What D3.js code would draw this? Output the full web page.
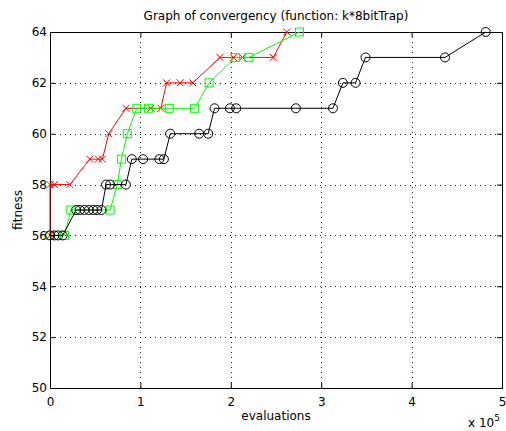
<!DOCTYPE html>
<html>
<head>
<meta charset="utf-8">
<script src="https://cdn.jsdelivr.net/npm/d3@7"></script>
<style>
  body { margin: 0; background: #fff; }
  text { font-family: "DejaVu Sans", "Liberation Sans", Arial, sans-serif; }
</style>
</head>
<body>
<script>
// Data (evaluations in units of 1e5)
const redEvals = [0, 0, 0.05, 0.22, 0.44, 0.535, 0.58, 0.65, 0.84, 1.115, 1.226, 1.29, 1.44, 1.58, 1.88, 2.03, 2.13, 2.47, 2.62]
const redFitness = [56, 58, 58, 58, 59, 59, 59, 60, 61, 61, 61, 62, 62, 62, 63, 63, 63, 63, 64]

const greenEvals = [0, 0.16, 0.23, 0.665, 0.745, 0.79, 0.855, 0.96, 1.09, 1.32, 1.6, 1.76, 2.05, 2.2, 2.76]
const greenFitness = [56, 56, 57, 57, 58, 59, 60, 61, 61, 61, 61, 62, 63, 63, 64]

const blackEvals = [0, 0.05, 0.09, 0.14, 0.29, 0.33, 0.38, 0.43, 0.48, 0.52, 0.57, 0.62, 0.665, 0.84, 0.905, 1.03, 1.21, 1.26, 1.33, 1.65, 1.75, 1.82, 1.99, 2.06, 2.72, 3.13, 3.24, 3.38, 3.49, 4.37, 4.82]
const blackFitness = [56, 56, 56, 56, 57, 57, 57, 57, 57, 57, 57, 58, 58, 58, 59, 59, 59, 59, 60, 60, 60, 61, 61, 61, 61, 61, 62, 62, 63, 63, 64]

const xTicks = [0, 1, 2, 3, 4, 5]
const yTicks = [50, 52, 54, 56, 58, 60, 62, 64]

const w = 506
const h = 431
const padL = 50, padR = 502, padT = 32, padB = 388

const svg = d3.select('body')
  .append('svg')
  .attr('width', w)
  .attr('height', h)

const x = d3.scaleLinear().domain([0, 5]).range([padL, padR])
const y = d3.scaleLinear().domain([50, 64]).range([padB, padT])

// Grid (dotted)
svg.append('g').selectAll('line')
  .data(xTicks.slice(1, -1))
  .enter().append('line')
  .attr('x1', d => Math.round(x(d)) + 0.5).attr('x2', d => Math.round(x(d)) + 0.5)
  .attr('y1', padT).attr('y2', padB)
  .attr('stroke', '#222').attr('stroke-width', 1)
  .attr('stroke-dasharray', '1,4')

svg.append('g').selectAll('line')
  .data(yTicks.slice(1, -1))
  .enter().append('line')
  .attr('x1', padL).attr('x2', padR)
  .attr('y1', d => Math.round(y(d)) + 0.5).attr('y2', d => Math.round(y(d)) + 0.5)
  .attr('stroke', '#222').attr('stroke-width', 1)
  .attr('stroke-dasharray', '1,4')

// Axes
const xAxis = d3.axisBottom(x).tickValues(xTicks).tickSize(-5).tickPadding(9).tickFormat(d3.format('d'))
const yAxis = d3.axisLeft(y).tickValues(yTicks).tickSize(-5).tickPadding(3)
const xTop = d3.axisTop(x).tickValues(xTicks).tickSize(-5).tickFormat('')
const yRight = d3.axisRight(y).tickValues(yTicks).tickSize(-5).tickFormat('')

function styleAxis(g) {
  g.select('.domain').remove()
  g.selectAll('line').attr('stroke', '#000')
  g.selectAll('text').attr('fill', '#000').style('font-size', '12px')
  g.attr('font-family', null)
}

svg.append('g').attr('transform', 'translate(0,' + padB + ')').call(xAxis).call(styleAxis)
svg.append('g').attr('transform', 'translate(' + padL + ',0)').call(yAxis).call(styleAxis)
svg.append('g').attr('transform', 'translate(0,' + padT + ')').call(xTop).call(styleAxis)
svg.append('g').attr('transform', 'translate(' + padR + ',0)').call(yRight).call(styleAxis)

svg.append('rect')
  .attr('x', padL + 0.5).attr('y', padT + 0.5)
  .attr('width', padR - padL).attr('height', padB - padT)
  .attr('fill', 'none').attr('stroke', '#000').attr('stroke-width', 1)

// Series
const line = d3.line().x(d => x(d[0])).y(d => y(d[1]))

function series(evals, fit) { return evals.map((e, i) => [e, fit[i]]) }

const red = series(redEvals, redFitness)
const green = series(greenEvals, greenFitness)
const black = series(blackEvals, blackFitness)

// red
svg.append('path').datum(red).attr('d', line)
  .attr('fill', 'none').attr('stroke', '#ff0000').attr('stroke-width', 1)
svg.append('g').selectAll('path')
  .data(red).enter().append('path')
  .attr('transform', d => 'translate(' + x(d[0]) + ',' + y(d[1]) + ')')
  .attr('d', 'M-3.5,-3.5L3.5,3.5M-3.5,3.5L3.5,-3.5')
  .attr('stroke', '#ff0000').attr('stroke-width', 1)

// green
svg.append('path').datum(green).attr('d', line)
  .attr('fill', 'none').attr('stroke', '#00ff00').attr('stroke-width', 1)
svg.append('g').selectAll('rect')
  .data(green).enter().append('rect')
  .attr('x', d => x(d[0]) - 4).attr('y', d => y(d[1]) - 4)
  .attr('width', 8).attr('height', 8)
  .attr('fill', 'none').attr('stroke', '#00ff00').attr('stroke-width', 1)

// black
svg.append('path').datum(black).attr('d', line)
  .attr('fill', 'none').attr('stroke', '#000').attr('stroke-width', 1)
svg.append('g').selectAll('circle')
  .data(black).enter().append('circle')
  .attr('cx', d => x(d[0])).attr('cy', d => y(d[1]))
  .attr('r', 4.5)
  .attr('fill', 'none').attr('stroke', '#000').attr('stroke-width', 1)

// Labels
svg.append('text')
  .attr('x', (padL + padR) / 2).attr('y', 20)
  .attr('text-anchor', 'middle')
  .style('font-size', '12px')
  .text('Graph of convergency (function: k*8bitTrap)')

svg.append('text')
  .attr('x', (padL + padR) / 2).attr('y', 420)
  .attr('text-anchor', 'middle')
  .style('font-size', '12px')
  .text('evaluations')

svg.append('text')
  .attr('transform', 'translate(22,' + ((padT + padB) / 2) + ') rotate(-90)')
  .attr('text-anchor', 'middle')
  .style('font-size', '12px')
  .text('fitness')

const mult = svg.append('text')
  .attr('x', 468).attr('y', 427)
  .style('font-size', '12px')
mult.append('tspan').text('x 10')
mult.append('tspan').attr('dy', -6).style('font-size', '9px').text('5')
</script>
</body>
</html>
